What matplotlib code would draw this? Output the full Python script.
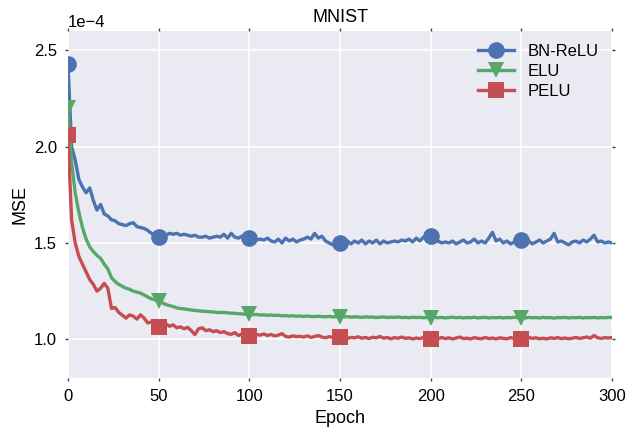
import numpy as np
import matplotlib as mpl
import matplotlib.pyplot as plt

mpl.rc('font', family=['Liberation Sans', 'DejaVu Sans'])

# Epochs sampled every 2 (values in units of 1e-4)
epochs = np.arange(0, 301, 2)

bn_relu = [
    2.43, 2.00, 1.93, 1.83, 1.79, 1.76, 1.785, 1.72, 1.67, 1.70,
    1.65, 1.64, 1.62, 1.615, 1.60, 1.595, 1.59, 1.60, 1.605, 1.585,
    1.58, 1.575, 1.565, 1.55, 1.545, 1.53, 1.545, 1.54, 1.55, 1.545,
    1.55, 1.54, 1.545, 1.54, 1.535, 1.54, 1.53, 1.53, 1.535, 1.525,
    1.53, 1.535, 1.53, 1.545, 1.525, 1.55, 1.53, 1.525, 1.535, 1.52,
    1.525, 1.52, 1.515, 1.52, 1.515, 1.525, 1.51, 1.505, 1.52, 1.50,
    1.525, 1.51, 1.52, 1.505, 1.515, 1.52, 1.53, 1.52, 1.55, 1.525,
    1.535, 1.51, 1.50, 1.49, 1.495, 1.50, 1.505, 1.51, 1.495, 1.51,
    1.50, 1.515, 1.495, 1.51, 1.50, 1.515, 1.495, 1.51, 1.50, 1.505,
    1.51, 1.505, 1.515, 1.51, 1.52, 1.505, 1.525, 1.51, 1.53, 1.52,
    1.535, 1.505, 1.51, 1.50, 1.505, 1.50, 1.51, 1.495, 1.505, 1.515,
    1.50, 1.505, 1.52, 1.50, 1.51, 1.50, 1.525, 1.555, 1.51, 1.52,
    1.50, 1.51, 1.495, 1.505, 1.51, 1.515, 1.50, 1.51, 1.495, 1.505,
    1.515, 1.50, 1.51, 1.52, 1.55, 1.505, 1.51, 1.50, 1.49, 1.505,
    1.51, 1.50, 1.515, 1.505, 1.52, 1.54, 1.505, 1.51, 1.50, 1.505,
    1.50]

elu = [
    2.20, 1.92, 1.76, 1.66, 1.58, 1.52, 1.48, 1.455, 1.435, 1.42,
    1.39, 1.365, 1.32, 1.30, 1.285, 1.275, 1.265, 1.26, 1.25, 1.245,
    1.24, 1.23, 1.22, 1.21, 1.205, 1.198, 1.19, 1.18, 1.175, 1.17,
    1.163, 1.16, 1.158, 1.155, 1.152, 1.15, 1.148, 1.146, 1.145, 1.143,
    1.142, 1.14, 1.139, 1.14, 1.137, 1.136, 1.135, 1.133, 1.132, 1.13,
    1.13, 1.128, 1.129, 1.126, 1.127, 1.125, 1.126, 1.124, 1.125, 1.122,
    1.123, 1.121, 1.122, 1.12, 1.121, 1.119, 1.121, 1.119, 1.118, 1.12,
    1.118, 1.117, 1.119, 1.116, 1.118, 1.117, 1.116, 1.118, 1.115, 1.117,
    1.116, 1.114, 1.117, 1.115, 1.116, 1.113, 1.115, 1.116, 1.113, 1.115,
    1.114, 1.116, 1.113, 1.114, 1.112, 1.115, 1.113, 1.114, 1.112, 1.114,
    1.113, 1.115, 1.112, 1.114, 1.111, 1.113, 1.115, 1.112, 1.114, 1.111,
    1.113, 1.112, 1.115, 1.111, 1.113, 1.114, 1.111, 1.113, 1.112, 1.114,
    1.111, 1.113, 1.112, 1.115, 1.112, 1.113, 1.111, 1.114, 1.112, 1.113,
    1.111, 1.114, 1.112, 1.113, 1.11, 1.113, 1.112, 1.114, 1.111, 1.113,
    1.112, 1.114, 1.111, 1.113, 1.112, 1.114, 1.111, 1.113, 1.112, 1.114,
    1.113]

pelu = [
    2.06, 1.62, 1.50, 1.43, 1.39, 1.35, 1.31, 1.285, 1.25, 1.265,
    1.29, 1.265, 1.16, 1.165, 1.14, 1.125, 1.11, 1.127, 1.12, 1.105,
    1.127, 1.11, 1.085, 1.09, 1.075, 1.066, 1.07, 1.08, 1.068, 1.075,
    1.06, 1.065, 1.055, 1.062, 1.045, 1.025, 1.055, 1.06, 1.045, 1.05,
    1.04, 1.045, 1.035, 1.04, 1.03, 1.026, 1.035, 1.02, 1.028, 1.02,
    1.018, 1.03, 1.025, 1.022, 1.028, 1.02, 1.025, 1.018, 1.022, 1.03,
    1.015, 1.012, 1.018, 1.014, 1.016, 1.012, 1.018, 1.01, 1.015, 1.02,
    1.012, 1.008, 1.014, 1.01, 1.005, 1.01, 1.012, 1.005, 1.01, 1.008,
    1.013, 1.006, 1.01, 1.004, 1.011, 1.008, 1.015, 1.006, 1.01, 1.003,
    1.009, 1.006, 1.012, 1.005, 1.008, 1.002, 1.007, 1.004, 1.01, 1.003,
    1.00, 1.006, 1.003, 1.01, 1.004, 1.008, 1.002, 1.007, 1.012, 1.004,
    1.006, 1.002, 1.009, 1.005, 1.003, 1.01, 1.004, 1.007, 1.002, 1.008,
    1.005, 1.003, 1.009, 1.004, 1.006, 1.003, 1.007, 1.01, 1.005, 1.008,
    1.003, 1.006, 1.002, 1.008, 1.005, 1.009, 1.004, 1.007, 1.003, 1.006,
    1.01, 1.005, 1.008, 1.012, 1.006, 1.02, 1.008, 1.005, 1.009, 1.007,
    1.01]

# markers every 50 epochs, none at the last one
mark_idx = list(range(0, 150, 25))

series = [("BN-ReLU", bn_relu, '#4C72B0', 'o', 12),
          ("ELU", elu, '#55A868', 'v', 12),
          ("PELU", pelu, '#C44E52', 's', 12)]

fig = plt.figure(figsize=(6.41, 4.28), dpi=100)
ax = fig.add_axes([0.106, 0.117, 0.849, 0.811])
ax.set_facecolor('#EAEAF2')
for s in ax.spines.values():
    s.set_visible(False)
ax.grid(True, color='white', linewidth=1.2)
ax.set_axisbelow(True)

for label, vals, c, m, ms in series:
    ax.plot(epochs, np.array(vals) * 1e-4, c=c, lw=2.4, label=label,
            marker=m, markersize=ms, markevery=mark_idx, markeredgewidth=0)

ax.set_xlim(0, 300)
ax.set_ylim(0.8e-4, 2.6e-4)
ax.set_xticks(np.arange(0, 301, 50))
ax.set_yticks([1.0e-4, 1.5e-4, 2.0e-4, 2.5e-4])
ax.ticklabel_format(axis='y', style='sci', scilimits=(0, 0))
ax.yaxis.get_offset_text().set_fontsize(12)
ax.tick_params(labelsize=12, direction='out', length=2, width=1,
               color='#444444', top=True, right=True, pad=6)

ax.set_xlabel("Epoch", fontsize=13)
ax.set_ylabel("MSE", fontsize=13)
ax.set_title("MNIST", fontsize=13)
ax.legend(loc='upper right', frameon=False, fontsize=12, handlelength=2.2,
          borderaxespad=0.4, labelspacing=0.3)

fig.savefig("out.png", dpi=100)
